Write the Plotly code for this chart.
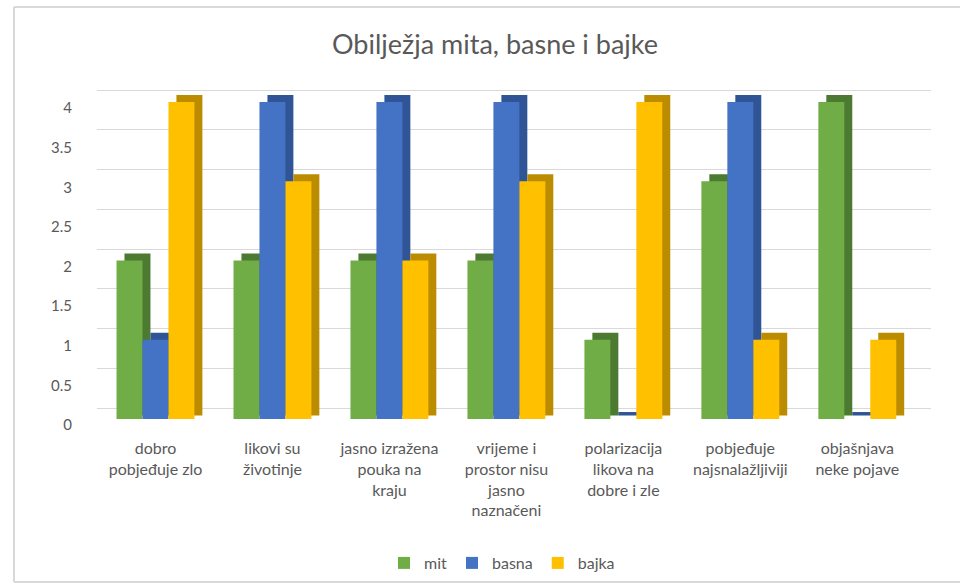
import plotly.graph_objects as go

# ---- data ----
categories = [
    "dobro<br>pobjeđuje zlo",
    "likovi su<br>životinje",
    "jasno izražena<br>pouka na<br>kraju",
    "vrijeme i<br>prostor nisu<br>jasno<br>naznačeni",
    "polarizacija<br>likova na<br>dobre i zle",
    "pobjeđuje<br>najsnalažljiviji",
    "objašnjava<br>neke pojave",
]
series_names = ["mit", "basna", "bajka"]
mit = [2, 2, 2, 2, 1, 3, 4]
basna = [1, 4, 4, 4, 0, 4, 0]
bajka = [4, 3, 2, 3, 4, 1, 1]
y_ticks = [0, 0.5, 1, 1.5, 2, 2.5, 3, 3.5, 4]

# ---- style ----
front_colors = ["#70AD47", "#4472C4", "#FFC000"]
side_colors = ["#4B7A30", "#2F5597", "#BC8C00"]
bar_w = 0.222
offsets = [-0.333, -0.111, 0.111]
dx = 0.068   # depth shift (category units)
dy = 0.088   # depth shift (value units)
text_col = "#595959"
font_fam = "Lato, 'Open Sans', sans-serif"

fig = go.Figure()
for name, vals, fc, sc, off in zip(series_names, [mit, basna, bajka],
                                   front_colors, side_colors, offsets):
    # depth (side/top face)
    fig.add_trace(go.Bar(
        x=categories, y=[v + dy / 2 for v in vals], base=dy / 2,
        width=bar_w, offset=off + dx, marker=dict(color=sc, line=dict(width=0)),
        showlegend=False, hoverinfo="skip"))
    # front face
    fig.add_trace(go.Bar(
        x=categories, y=vals, name=name,
        width=bar_w, offset=off, marker=dict(color=fc, line=dict(width=0))))

# empty trace so the back-wall grid axis is drawn
fig.add_trace(go.Scatter(x=[], y=[], yaxis="y2", showlegend=False, hoverinfo="skip"))

L, R_EDGE, T, B_EDGE = 97, 931, 84, 419
W = R_EDGE - L
H = B_EDGE - T
border = "#D9D9D9"

fig.update_layout(
    width=960, height=586,
    margin=dict(l=L, r=960 - R_EDGE, t=T, b=586 - B_EDGE, pad=0, autoexpand=False),
    paper_bgcolor="white", plot_bgcolor="white",
    barmode="overlay",
    font=dict(family=font_fam, size=16, color=text_col),
    title=dict(text="Obilježja mita, basne i bajke", xref="container", yref="container",
               x=495 / 960, y=1 - 45 / 586, xanchor="center", yanchor="middle",
               font=dict(size=27, color=text_col, family=font_fam)),
    xaxis=dict(type="category", range=[-0.5, 6.63], showgrid=False, zeroline=False,
               showline=False, ticks="", ticklabelstandoff=18, automargin=False,
               tickfont=dict(size=16, color=text_col)),
    yaxis=dict(range=[0, (B_EDGE - T) / 79.25], showgrid=False, zeroline=False,
               showline=False, tickvals=y_ticks, ticktext=[f"{v:g}" for v in y_ticks],
               ticks="", ticklabelstandoff=24, ticklabelshift=6, automargin=False,
               tickfont=dict(size=15, color=text_col)),
    yaxis2=dict(overlaying="y", range=[-(B_EDGE - 408) / 79.5, (408 - T) / 79.5],
                showgrid=True, gridcolor="#D9D9D9", gridwidth=1.3, automargin=False,
                tickvals=y_ticks, showticklabels=False, zeroline=False, showline=False),
    legend=dict(orientation="h", x=(502 - L) / W, y=(B_EDGE - 563) / H,
                xanchor="center", yanchor="middle",
                font=dict(size=16, color=text_col), traceorder="normal"),
    shapes=[
        dict(type="line", xref="paper", yref="paper",
             x0=(14 - L) / W, x1=(14 - L) / W, y0=(B_EDGE - 582) / H, y1=(B_EDGE - 7) / H,
             line=dict(color=border, width=2)),
        dict(type="line", xref="paper", yref="paper",
             x0=(14 - L) / W, x1=(960 - L) / W, y0=(B_EDGE - 7) / H, y1=(B_EDGE - 7) / H,
             line=dict(color=border, width=2)),
        dict(type="line", xref="paper", yref="paper",
             x0=(14 - L) / W, x1=(960 - L) / W, y0=(B_EDGE - 582) / H, y1=(B_EDGE - 582) / H,
             line=dict(color=border, width=2)),
    ],
)

fig.write_html("out.html")
